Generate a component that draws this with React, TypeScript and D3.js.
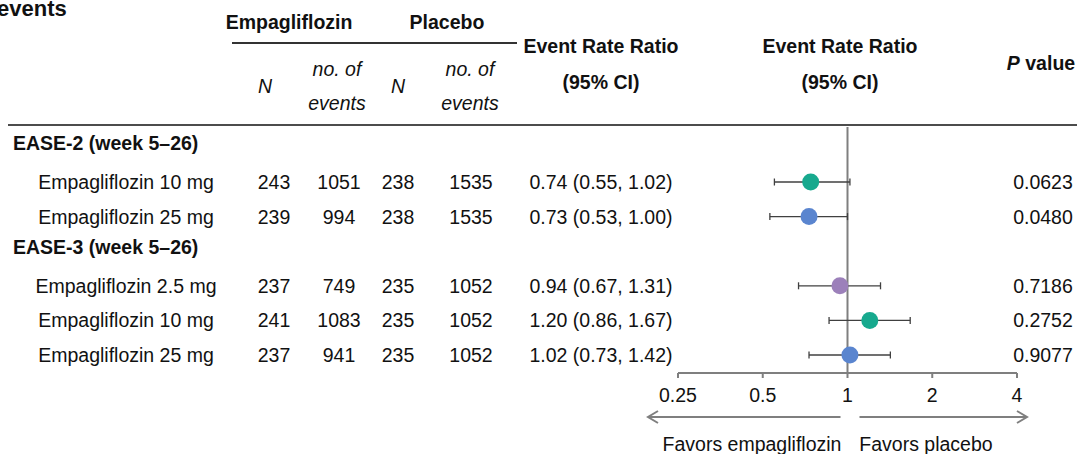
import React from "react";
import * as d3 from "d3";

const W = 1077;
const H = 454;

// --- data ---
const groups = ["EASE-2 (week 5–26)", "EASE-3 (week 5–26)"];
const rowGroup = [0, 0, 1, 1, 1];
const doses = ["Empagliflozin 10 mg", "Empagliflozin 25 mg", "Empagliflozin 2.5 mg", "Empagliflozin 10 mg", "Empagliflozin 25 mg"];
const doseKey = ["10", "25", "2.5", "10", "25"];
const empaN = [243, 239, 237, 241, 237];
const empaEvents = [1051, 994, 749, 1083, 941];
const placeboN = [238, 238, 235, 235, 235];
const placeboEvents = [1535, 1535, 1052, 1052, 1052];
const ratio = [0.74, 0.73, 0.94, 1.2, 1.02];
const ciLow = [0.55, 0.53, 0.67, 0.86, 0.73];
const ciHigh = [1.02, 1.0, 1.31, 1.67, 1.42];
const pValues = ["0.0623", "0.0480", "0.7186", "0.2752", "0.9077"];
const ticks = [0.25, 0.5, 1, 2, 4];

const doseColor: Record<string, string> = {
  "10": "#17a98e",
  "25": "#5a85cf",
  "2.5": "#9c80ba",
};

const FONT = "'Liberation Sans', Arial, Helvetica, sans-serif";
const FS = 19.5;

const fmt = (v: number) => v.toFixed(2);

const App: React.FC = () => {
  // forest plot x scale (log base 2)
  const x = d3.scaleLog().base(2).domain([0.25, 4]).range([678, 1017]);
  // row slots: each group after the first adds one empty slot for its header
  const slots = doses.map((_, i) => i + rowGroup[i]);
  const y = d3.scaleLinear().domain([0, 5]).range([182, 355]);
  const headerOffset = 39;
  const axisY = 373;
  const base = 7; // text baseline below row centre

  const cols = { label: 126, empaN: 274, empaEv: 339, plaN: 398, plaEv: 471, ci: 601, p: 1043 };

  const groupHeaderY = groups.map((_, g) => {
    const first = rowGroup.indexOf(g);
    return y(slots[first]) - headerOffset;
  });

  const arrow = (x1: number, x2: number, yy: number) => {
    const dir = Math.sign(x2 - x1);
    return (
      <g stroke="#7f7f7f" strokeWidth={2} fill="none">
        <line x1={x1} x2={x2} y1={yy} y2={yy} />
        <polyline points={`${x2 - dir * 10},${yy - 6} ${x2},${yy} ${x2 - dir * 10},${yy + 6}`} />
      </g>
    );
  };

  return (
    <svg
      width={W}
      height={H}
      style={{ position: "absolute", left: 0, top: 0, background: "#fff" }}
      fontFamily={FONT}
      fontSize={FS}
    >
      <rect width={W} height={H} fill="#fff" />
      {/* title (cut off in the original) */}
      <text x={-3} y={16} fontSize={22} fontWeight="bold" fill="#111">
        events
      </text>

      {/* column headers */}
      <g fontWeight="bold" fill="#111" textAnchor="middle">
        <text x={289} y={29}>Empagliflozin</text>
        <text x={447} y={29}>Placebo</text>
        <text x={cols.ci} y={53}>Event Rate Ratio</text>
        <text x={cols.ci} y={89}>(95% CI)</text>
        <text x={840} y={53}>Event Rate Ratio</text>
        <text x={840} y={89}>(95% CI)</text>
        <text x={1041} y={70}>
          <tspan fontStyle="italic">P</tspan> value
        </text>
      </g>
      <line x1={232} x2={517} y1={43} y2={43} stroke="#333" strokeWidth={2} />
      <g fontStyle="italic" fill="#111" textAnchor="middle">
        <text x={265} y={93}>N</text>
        <text x={337} y={76}>no. of</text>
        <text x={337} y={110}>events</text>
        <text x={398} y={93}>N</text>
        <text x={470} y={76}>no. of</text>
        <text x={470} y={110}>events</text>
      </g>
      <line x1={8} x2={W} y1={125} y2={125} stroke="#111" strokeWidth={1.5} />

      {/* group headers */}
      {groups.map((gname, g) => (
        <text key={gname} x={13} y={groupHeaderY[g] + base} fontWeight="bold" fill="#111">
          {gname}
        </text>
      ))}

      {/* reference line at 1 */}
      <line x1={x(1)} x2={x(1)} y1={127} y2={axisY} stroke="#7f7f7f" strokeWidth={2} />

      {/* rows */}
      {doses.map((d, i) => {
        const yy = y(slots[i]);
        const ty = yy + base;
        return (
          <g key={i}>
            <g fill="#111" textAnchor="middle">
              <text x={cols.label} y={ty}>{d}</text>
              <text x={cols.empaN} y={ty}>{empaN[i]}</text>
              <text x={cols.empaEv} y={ty}>{empaEvents[i]}</text>
              <text x={cols.plaN} y={ty}>{placeboN[i]}</text>
              <text x={cols.plaEv} y={ty}>{placeboEvents[i]}</text>
              <text x={cols.ci} y={ty}>
                {`${fmt(ratio[i])} (${fmt(ciLow[i])}, ${fmt(ciHigh[i])})`}
              </text>
              <text x={cols.p} y={ty}>{pValues[i]}</text>
            </g>
            <g stroke="#404040" strokeWidth={1.3}>
              <line x1={x(ciLow[i])} x2={x(ciHigh[i])} y1={yy} y2={yy} />
              <line x1={x(ciLow[i])} x2={x(ciLow[i])} y1={yy - 3.5} y2={yy + 3.5} />
              <line x1={x(ciHigh[i])} x2={x(ciHigh[i])} y1={yy - 3.5} y2={yy + 3.5} />
            </g>
            <circle cx={x(ratio[i])} cy={yy} r={8.5} fill={doseColor[doseKey[i]]} />
          </g>
        );
      })}

      {/* x axis */}
      <g stroke="#7f7f7f" strokeWidth={2}>
        <line x1={x(0.25)} x2={x(4)} y1={axisY} y2={axisY} />
        {ticks.map((t) => (
          <line key={t} x1={x(t)} x2={x(t)} y1={axisY} y2={axisY + 5} />
        ))}
      </g>
      <g fill="#111" textAnchor="middle">
        {ticks.map((t) => (
          <text key={t} x={x(t)} y={402}>{String(t)}</text>
        ))}
      </g>

      {/* favors arrows */}
      {arrow(x(1) - 7, 648, 417)}
      {arrow(x(1) + 12, 1027, 417)}
      <g fill="#111" textAnchor="middle">
        <text x={752} y={451}>Favors empagliflozin</text>
        <text x={926} y={451}>Favors placebo</text>
      </g>
    </svg>
  );
};

export default App;
